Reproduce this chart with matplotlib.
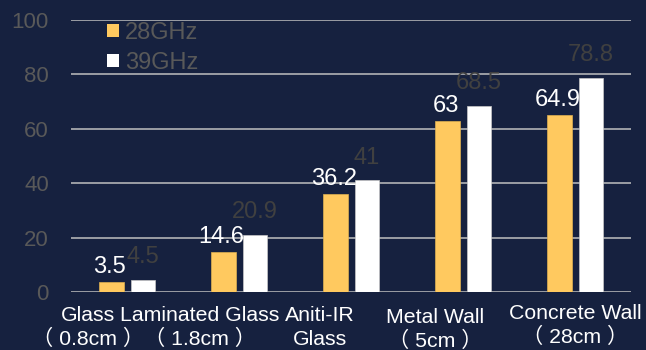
import matplotlib
matplotlib.use("Agg")
import matplotlib.pyplot as plt
from matplotlib.patches import Patch
import numpy as np

plt.rcParams['font.family'] = ['Liberation Sans', 'Noto Sans CJK SC', 'DejaVu Sans']

categories = ['Glass\n（ 0.8cm ）', 'Laminated Glass\n（ 1.8cm ）', 'Aniti-IR\nGlass',
              'Metal Wall\n（ 5cm ）', 'Concrete Wall\n（ 28cm ）']
ghz28 = [3.5, 14.6, 36.2, 63, 64.9]
ghz39 = [4.5, 20.9, 41, 68.5, 78.8]
series_names = ['28GHz', '39GHz']
yticks = [0, 20, 40, 60, 80, 100]

bg = '#16213F'
yellow = '#FFC95F'
white = '#FFFFFF'
grey_txt = '#595959'

fig = plt.figure(figsize=(6.46, 3.5), dpi=100)
fig.patch.set_facecolor(bg)
ax = fig.add_axes([71 / 646, 58 / 350, 560 / 646, 272 / 350])
ax.set_facecolor(bg)

x = np.arange(len(categories))
w = 0.223
gap = 0.0625
b1 = ax.bar(x - (w + gap) / 2, ghz28, w, color=yellow, edgecolor='#E0B050', linewidth=0.5, zorder=3)
b2 = ax.bar(x + (w + gap) / 2, ghz39, w, color=white, edgecolor='#C8C8C8', linewidth=0.5, zorder=3)

# value labels
for rect, v in zip(b1, ghz28):
    ax.annotate(f'{v:g}', (rect.get_x() + rect.get_width() / 2, rect.get_height()),
                xytext=(-1, 6.5), textcoords='offset points', ha='center', va='baseline',
                fontsize=17, color='white', zorder=5)
for rect, v in zip(b2, ghz39):
    ax.annotate(f'{v:g}', (rect.get_x() + rect.get_width() / 2, rect.get_height()),
                xytext=(0, 12.2), textcoords='offset points', ha='center', va='baseline',
                fontsize=17, color='#404040', zorder=5)

ax.set_xlim(-0.5, len(categories) - 0.5)
ax.set_ylim(0, 100)
ax.set_yticks(yticks)
ax.set_xticks([])
ax.yaxis.grid(True, color='#BFBFBF', linewidth=1.1, zorder=0)
ax.set_axisbelow(True)
for s in ax.spines.values():
    s.set_visible(False)
ax.tick_params(axis='y', length=0, pad=16, labelsize=16, labelcolor=grey_txt)

# category labels, one text per line; they sit a bit left of the groups like the original
shift_px = [-39, -39, -31, -28, 0]
drop_px = [0, 0, 0, 2, -2]
for i, lab in enumerate(categories):
    for j, line in enumerate(lab.split('\n')):
        ax.annotate(line, xy=(x[i], 0), xycoords=('data', 'axes fraction'),
                    xytext=(shift_px[i] * 0.72, -(29 + drop_px[i] + 24 * j) * 0.72),
                    textcoords='offset points', ha='center', va='baseline',
                    fontsize=15.3, color='white', annotation_clip=False)

handles = [Patch(facecolor=yellow, edgecolor='none'), Patch(facecolor=white, edgecolor='none')]
leg = fig.legend(handles, series_names, loc='upper left', bbox_to_anchor=(107 / 646, 1 - 22 / 350),
                 frameon=False, fontsize=17, handlelength=0.5, handleheight=0.5,
                 handletextpad=0.25, labelspacing=0.34, borderpad=0, borderaxespad=0)
for t in leg.get_texts():
    t.set_color(grey_txt)

fig.savefig('out.png', dpi=100, facecolor=bg)
